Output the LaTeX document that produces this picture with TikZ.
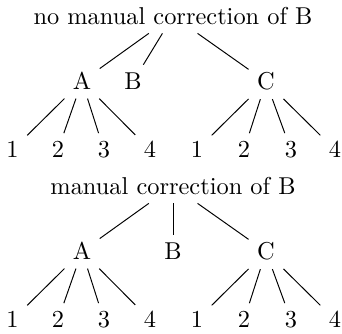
\documentclass[tikz,border=0pt]{standalone}
\begin{document}
\begin{tikzpicture}[x=0.41pt,y=-0.41pt,
  lbl/.style={anchor=base},
  edge/.style={draw,line width=0.4pt}]
\useasboundingbox (0,0) rectangle (342,334);
\foreach \dy/\ttl/\bx/\k in {0/no manual correction of B/133/1, 170/manual correction of B/173/2}{
  \node[lbl] (t\k) at (173,24.5+\dy) {\ttl};
  \node[lbl] (a\k) at (82,90+\dy) {A};
  \node[lbl] (b\k) at (\bx,90+\dy) {B};
  \node[lbl] (c\k) at (266,90+\dy) {C};
  \node[lbl] (a\k x1) at (12.5,158+\dy) {1};
  \node[lbl] (a\k x2) at (58,158+\dy) {2};
  \node[lbl] (a\k x3) at (104,158+\dy) {3};
  \node[lbl] (a\k x4) at (150,158+\dy) {4};
  \node[lbl] (c\k x1) at (197,158+\dy) {1};
  \node[lbl] (c\k x2) at (244,158+\dy) {2};
  \node[lbl] (c\k x3) at (291,158+\dy) {3};
  \node[lbl] (c\k x4) at (335,158+\dy) {4};
  \draw[edge] (t\k) -- (a\k);
  \draw[edge] (t\k) -- (b\k);
  \draw[edge] (t\k) -- (c\k);
  \foreach \i in {1,2,3,4}{
    \draw[edge] (a\k) -- (a\k x\i);
    \draw[edge] (c\k) -- (c\k x\i);
  }
}
\end{tikzpicture}
\end{document}
